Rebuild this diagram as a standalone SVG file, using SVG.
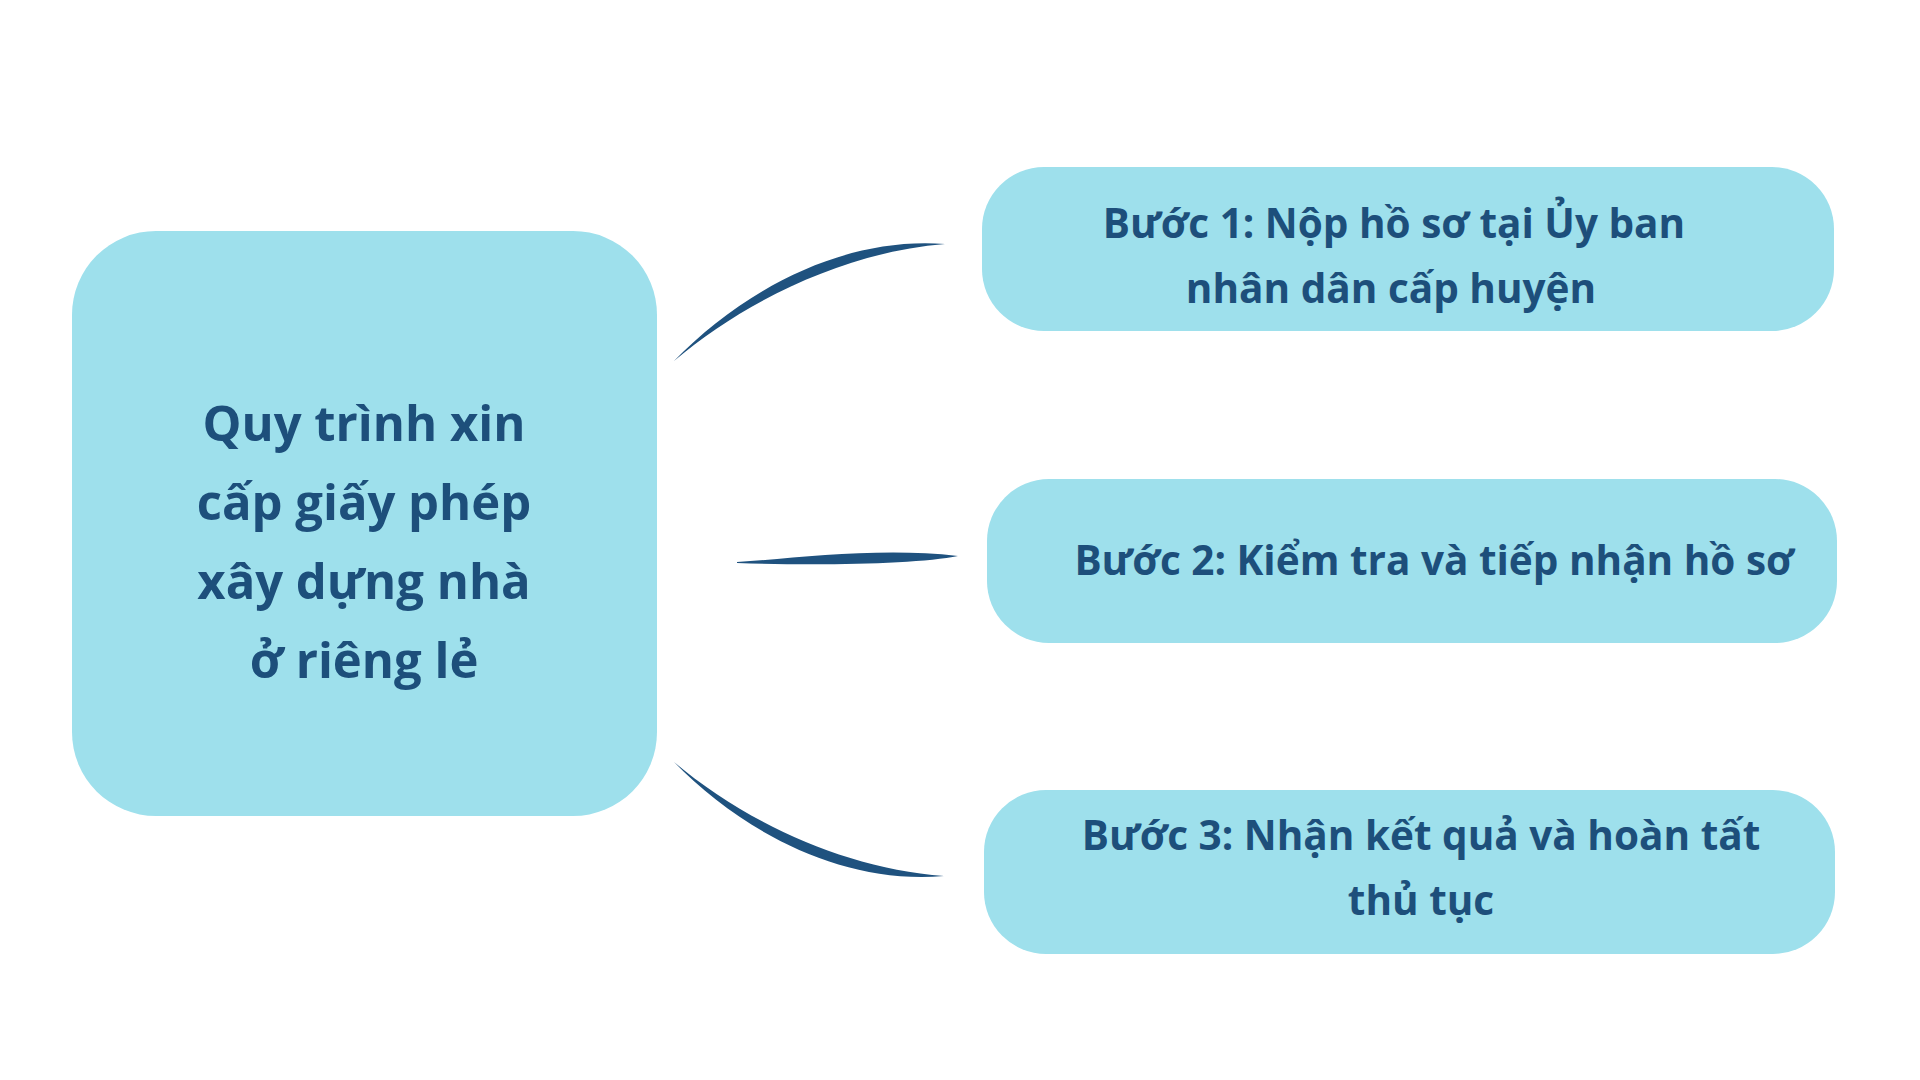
<svg xmlns="http://www.w3.org/2000/svg" width="1920" height="1080" viewBox="0 0 1920 1080">
  <style>
    .box { fill: #9ee0ec; }
    .t { font-family: "Open Sans", "Noto Sans", "DejaVu Sans", sans-serif; font-weight: 700; fill: #1d4f7b; text-anchor: middle; }
    .main { font-size: 49px; }
    .step { font-size: 40.5px; }
    .conn { fill: #1f527f; stroke: none; }
  </style>
  <rect width="1920" height="1080" fill="#ffffff"/>
  <g id="connectors">
    <path class="conn" d="M674,361 C740,293 840,236 945,244 C845,252 745,301 674,361 Z"/>
    <path class="conn" d="M737,562 C800,558 880,547 958,556 C920,564 820,566 737,563 Z"/>
    <path class="conn" d="M674,762 C740,830 840,885 944,876 C845,869 745,822 674,762 Z"/>
  </g>
  <g id="node-main">
    <rect class="box" x="72" y="231" width="585" height="585" rx="84" ry="84"/>
    <text class="t main" x="364" y="441">Quy trình xin</text>
    <text class="t main" x="364" y="520">cấp giấy phép</text>
    <text class="t main" x="364" y="599">xây dựng nhà</text>
    <text class="t main" x="364" y="678">ở riêng lẻ</text>
  </g>
  <g id="node-step1">
    <rect class="box" x="982" y="167" width="852" height="164" rx="62" ry="62"/>
    <text class="t step" x="1394" y="238">Bước 1: Nộp hồ sơ tại Ủy ban</text>
    <text class="t step" x="1391" y="303">nhân dân cấp huyện</text>
  </g>
  <g id="node-step2">
    <rect class="box" x="987" y="479" width="850" height="164" rx="62" ry="62"/>
    <text class="t step" x="1434" y="575">Bước 2: Kiểm tra và tiếp nhận hồ sơ</text>
  </g>
  <g id="node-step3">
    <rect class="box" x="984" y="790" width="851" height="164" rx="62" ry="62"/>
    <text class="t step" x="1421" y="850">Bước 3: Nhận kết quả và hoàn tất</text>
    <text class="t step" x="1421" y="915">thủ tục</text>
  </g>
</svg>
